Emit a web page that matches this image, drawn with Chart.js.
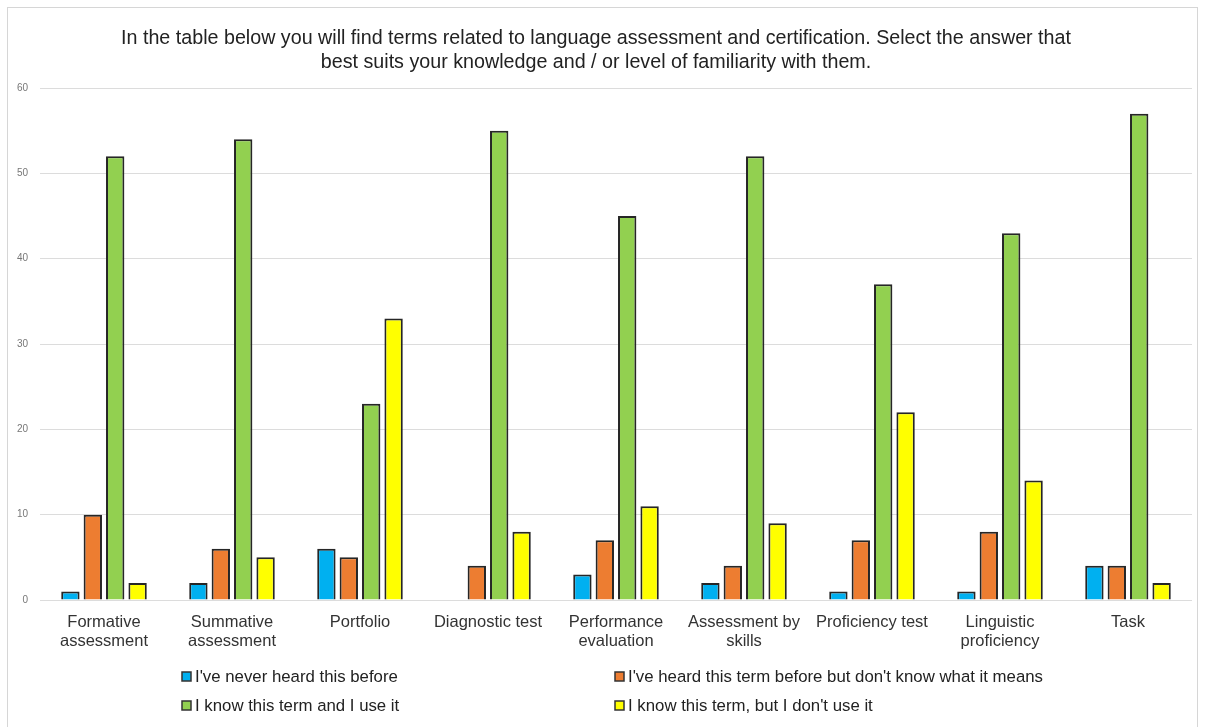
<!DOCTYPE html>
<html>
<head>
<meta charset="utf-8">
<script src="https://cdn.jsdelivr.net/npm/chart.js@4.4.1/dist/chart.umd.min.js"></script>
<style>
  html, body { margin: 0; padding: 0; background: #ffffff; }
  #wrap { position: relative; width: 1205px; height: 727px; }
  canvas { display: block; }
</style>
</head>
<body>
<div id="wrap"><canvas id="c" width="1205" height="727"></canvas></div>
<script>
const titleLines = [
  "In the table below you will find terms related to language assessment and certification. Select the answer that",
  "best suits your knowledge and / or level of familiarity with them."
];
const categories = [
  ["Formative", "assessment"],
  ["Summative", "assessment"],
  "Portfolio",
  "Diagnostic test",
  ["Performance", "evaluation"],
  ["Assessment by", "skills"],
  "Proficiency test",
  ["Linguistic", "proficiency"],
  "Task"
];
const seriesNames = [
  "I've never heard this before",
  "I've heard this term before but don't know what it means",
  "I know this term and I use it",
  "I know this term, but I don't use it"
];
const neverHeard   = [1, 2, 6, 0, 3, 2, 1, 1, 4];
const heardNoMean  = [10, 6, 5, 4, 7, 4, 7, 8, 4];
const knowAndUse   = [52, 54, 23, 55, 45, 52, 37, 43, 57];
const knowNotUse   = [2, 5, 33, 8, 11, 9, 22, 14, 2];
const yTicks = [0, 10, 20, 30, 40, 50, 60];

const seriesValues = [neverHeard, heardNoMean, knowAndUse, knowNotUse];
const seriesColors = ["#00b0f0", "#ed7d31", "#92d050", "#ffff00"];

const FONT = "'Liberation Sans', Arial, Helvetica, sans-serif";

const frame = {
  id: 'frame',
  beforeDraw(chart) {
    const ctx = chart.ctx;
    ctx.save();
    ctx.fillStyle = '#ffffff';
    ctx.fillRect(0, 0, chart.width, chart.height);
    ctx.strokeStyle = '#d6d6d6';
    ctx.lineWidth = 1;
    ctx.strokeRect(7.5, 7.5, 1190, 740);
    ctx.restore();
  }
};

const gridLegend = {
  id: 'gridLegend',
  afterDraw(chart) {
    const ctx = chart.ctx;
    const cols = [182, 615];
    const rows = [677, 706];
    ctx.save();
    ctx.font = "16.8px " + FONT;
    ctx.textBaseline = 'middle';
    ctx.textAlign = 'left';
    chart.data.datasets.forEach((ds, i) => {
      const x = cols[i % 2];
      const y = rows[Math.floor(i / 2)];
      ctx.fillStyle = ds.backgroundColor;
      ctx.fillRect(x, y - 5, 9, 9);
      ctx.strokeStyle = '#333333';
      ctx.lineWidth = 1.5;
      ctx.strokeRect(x, y - 5, 9, 9);
      ctx.fillStyle = '#222222';
      ctx.fillText(ds.label, x + 13, y);
    });
    ctx.restore();
  }
};

new Chart(document.getElementById('c'), {
  type: 'bar',
  data: {
    labels: categories,
    datasets: seriesNames.map((name, i) => ({
      label: name,
      data: seriesValues[i],
      backgroundColor: seriesColors[i],
      borderColor: '#262626',
      borderWidth: 2,
      categoryPercentage: 0.7,
      barPercentage: 0.82
    }))
  },
  options: {
    responsive: false,
    animation: false,
    devicePixelRatio: 1,
    layout: { padding: { left: 0, right: 13, top: 0, bottom: 0 } },
    plugins: {
      legend: { display: false },
      tooltip: { enabled: false },
      title: {
        display: true,
        text: titleLines,
        color: '#222222',
        font: { family: FONT, size: 19.7, weight: 'normal', lineHeight: 1.17 },
        padding: { top: 27.5, bottom: 14.5 }
      }
    },
    scales: {
      x: {
        grid: { display: false, drawTicks: false },
        border: { display: false },
        ticks: {
          color: '#333333',
          font: { family: FONT, size: 16.5, lineHeight: 1.15 },
          padding: 12.5,
          maxRotation: 0,
          autoSkip: false
        },
        afterFit(scale) { scale.height = 127; }
      },
      y: {
        min: 0,
        max: 60,
        afterBuildTicks(scale) { scale.ticks = yTicks.map(v => ({ value: v })); },
        grid: { color: '#dcdcdc', lineWidth: 1, drawTicks: false },
        border: { display: false },
        ticks: {
          color: '#777777',
          font: { family: FONT, size: 10 },
          padding: 12
        },
        afterFit(scale) { scale.width = 40; }
      }
    }
  },
  plugins: [frame, gridLegend]
});
</script>
</body>
</html>
